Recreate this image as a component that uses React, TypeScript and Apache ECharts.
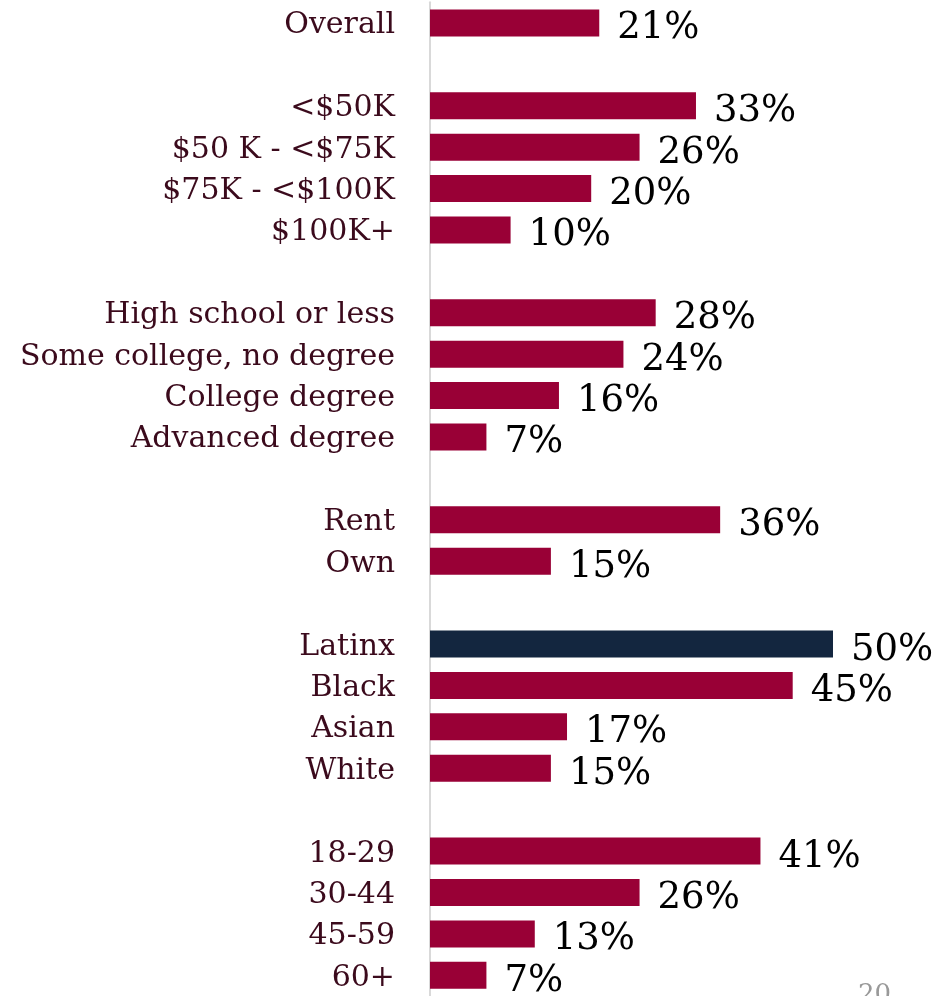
import React, { useEffect, useRef } from "react";
import * as echarts from "echarts";

const categories = [
  "Overall", "gap1",
  "<$50K", "$50 K - <$75K", "$75K - <$100K", "$100K+", "gap2",
  "High school or less", "Some college, no degree", "College degree", "Advanced degree", "gap3",
  "Rent", "Own", "gap4",
  "Latinx", "Black", "Asian", "White", "gap5",
  "18-29", "30-44", "45-59", "60+",
];
const values: (number | null)[] = [
  21, null,
  33, 26, 20, 10, null,
  28, 24, 16, 7, null,
  36, 15, null,
  50, 45, 17, 15, null,
  41, 26, 13, 7,
];
const highlighted = ["Latinx"];

const RED = "#990036";
const NAVY = "#13263f";
const LABEL = "#3b0a1c";

export default function App() {
  const ref = useRef<HTMLDivElement>(null);
  useEffect(() => {
    const chart = echarts.init(ref.current!, null, { renderer: "svg" });
    const font = "'DejaVu Serif', serif";
    chart.setOption({
      animation: false,
      grid: { left: 430, top: 2.2, width: 403, height: 998.4, containLabel: false },
      xAxis: { type: "value", min: 0, max: 50, show: false },
      yAxis: {
        type: "category",
        data: categories,
        inverse: true,
        axisTick: { show: false },
        axisLine: { show: true, lineStyle: { color: "#d9d9d9", width: 2 } },
        axisLabel: {
          margin: 35,
          color: LABEL,
          fontFamily: font,
          fontSize: 30,
          formatter: (v: string) => (v.startsWith("gap") ? "" : v),
        },
      },
      series: [
        {
          type: "bar",
          barWidth: 27,
          data: values.map((v, i) => ({
            value: v,
            itemStyle: { color: highlighted.includes(categories[i]) ? NAVY : RED },
          })),
          label: {
            show: true,
            position: "right",
            distance: 18,
            offset: [0, 3],
            color: "#000",
            fontFamily: font,
            fontSize: 37,
            formatter: (p: any) => (p.value == null ? "" : p.value + "%"),
          },
        },
      ],
      graphic: [
        {
          type: "text",
          left: 858,
          top: 980,
          style: { text: "20", fill: "#999", font: "26px " + font },
        },
      ],
    });
    return () => chart.dispose();
  }, []);
  return (
    <div
      ref={ref}
      style={{ position: "fixed", left: 0, top: 0, width: 951, height: 996 }}
    />
  );
}
